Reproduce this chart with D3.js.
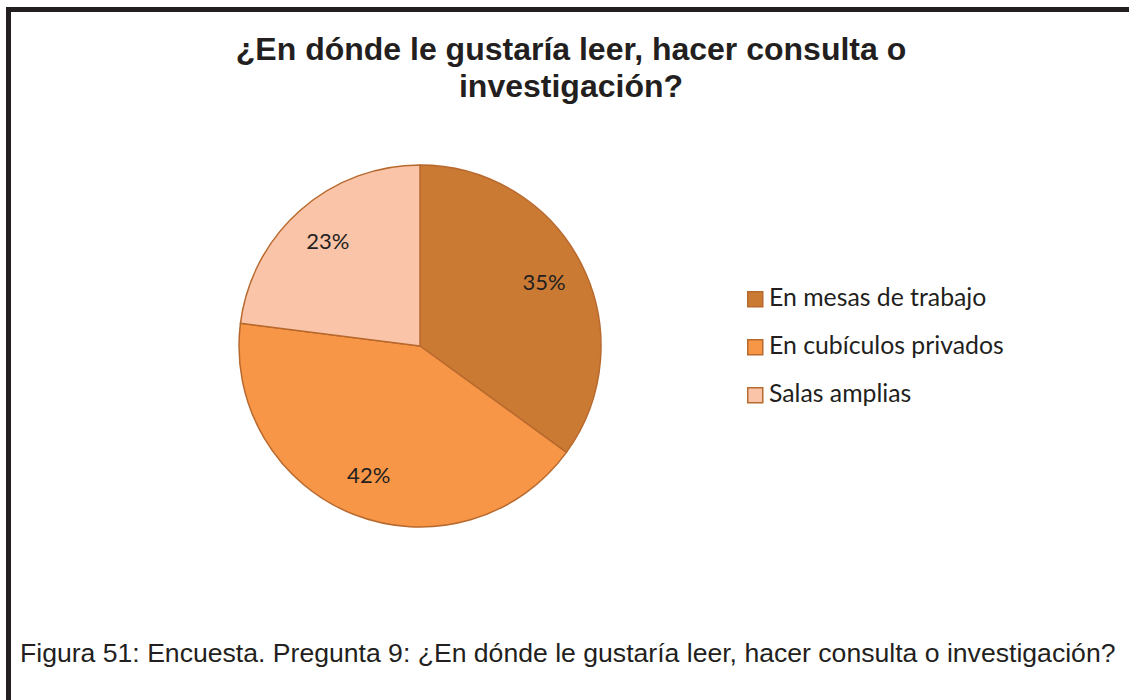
<!DOCTYPE html>
<html>
<head>
<meta charset="utf-8">
<script src="https://cdn.jsdelivr.net/npm/d3@7"></script>
<style>
  html, body { margin: 0; padding: 0; background: #fff; }
  svg { display: block; }
</style>
</head>
<body>
<svg id="chart" width="1129" height="700"></svg>
<script>
const categories = ["En mesas de trabajo", "En cubículos privados", "Salas amplias"];
const values = [35, 42, 23];
const valueLabels = ["35%", "42%", "23%"];
const colors = ["#CA7A33", "#F79646", "#FAC4A8"];
const titleLines = ["¿En dónde le gustaría leer, hacer consulta o", "investigación?"];
const caption = "Figura 51: Encuesta. Pregunta 9: ¿En dónde le gustaría leer, hacer consulta o investigación?";

const svg = d3.select("#chart");
const W = 1129, H = 700;

// frame (top and left border)
svg.append("path")
  .attr("d", `M ${8.5} ${H} L ${8.5} ${9.5} L ${W} ${9.5}`)
  .attr("fill", "none").attr("stroke", "#231f20").attr("stroke-width", 5);

// title
svg.append("g").selectAll("text").data(titleLines).join("text")
  .attr("x", 571).attr("y", (d, i) => 60 + i * 37)
  .attr("text-anchor", "middle")
  .attr("font-family", "'Liberation Sans', Arial, sans-serif")
  .attr("font-weight", "bold").attr("font-size", 32)
  .attr("fill", "#231f20")
  .text(d => d);

// pie
const cx = 420, cy = 346, R = 181;
const pie = d3.pie().sort(null).value(d => d.v);
const data = pie(values.map((v, i) => ({ v, i })));
const arc = d3.arc().innerRadius(0).outerRadius(R);
const labelArc = d3.arc().innerRadius(R * 0.77).outerRadius(R * 0.77);
const g = svg.append("g").attr("transform", `translate(${cx},${cy})`);
g.selectAll("path").data(data).join("path")
  .attr("d", arc)
  .attr("fill", d => colors[d.data.i])
  .attr("stroke", "#B8692E").attr("stroke-width", 1.5).attr("stroke-linejoin", "round");
g.selectAll("text").data(data).join("text")
  .attr("transform", d => `translate(${labelArc.centroid(d)})`)
  .attr("text-anchor", "middle").attr("dy", "0.35em")
  .attr("font-family", "Lato, 'Open Sans', sans-serif")
  .attr("font-size", 22).attr("fill", "#231f20")
  .text(d => valueLabels[d.data.i]);

// legend
const legend = svg.append("g").attr("transform", "translate(747,291)");
const rows = legend.selectAll("g").data(categories).join("g")
  .attr("transform", (d, i) => `translate(0,${i * 48})`);
rows.append("rect").attr("x", 0.75).attr("y", 0.75).attr("width", 15).attr("height", 15)
  .attr("fill", (d, i) => colors[i]).attr("stroke", "#B8692E").attr("stroke-width", 1.5);
rows.append("text").attr("x", 22).attr("y", 15)
  .attr("font-family", "Lato, 'Open Sans', sans-serif")
  .attr("font-size", 24.8).attr("fill", "#231f20")
  .text(d => d);

// caption
svg.append("text").attr("x", 20).attr("y", 662)
  .attr("font-family", "'Liberation Sans', Arial, sans-serif")
  .attr("font-size", 26.6).attr("fill", "#231f20")
  .text(caption);
</script>
</body>
</html>
